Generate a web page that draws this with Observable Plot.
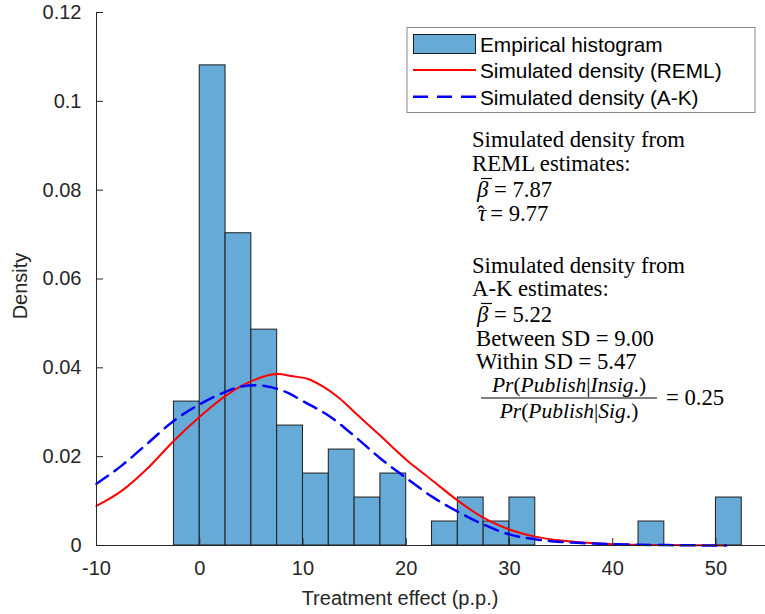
<!DOCTYPE html>
<html><head><meta charset="utf-8">
<script src="https://cdn.jsdelivr.net/npm/d3@7"></script>
<script src="https://cdn.jsdelivr.net/npm/@observablehq/plot@0.6"></script>
<style>body{margin:0;background:#fff} #chart{width:765px;height:614px}</style>
</head><body><div id="chart"></div>
<script>
// Histogram: bin left edges (width 2.5) and densities
const binWidth = 2.5;
const binLeft = [-2.5,0,2.5,5,7.5,10,12.5,15,17.5,20,22.5,25,27.5,30,32.5,35,37.5,40,42.5,45,47.5,50];
const histDensity = [0.0324,0.1081,0.0703,0.0486,0.0270,0.0162,0.0216,0.0108,0.0162,0,0.0054,0.0108,0.0054,0.0108,0,0,0,0,0.0054,0,0,0.0108];

// Simulated density (REML)
const remlX = [-10,-7.5,-5,-2.5,0,2.5,5,7.5,9,10.5,12,13.5,15,17.5,20,22.5,25,27.5,30,32.5,35,37.5,40,45,51];
const remlY = [0.0089,0.0124,0.0175,0.0236,0.0290,0.0337,0.0370,0.0386,0.0381,0.0375,0.0357,0.0332,0.0300,0.0247,0.0193,0.0147,0.0101,0.0062,0.0036,0.0020,0.0011,0.0006,0.0003,0.0001,0.0000];

// Simulated density (A-K)
const akX = [-10,-7.5,-5,-2.5,0,2.5,4,5.5,7,8.5,10,12.5,15,17.5,20,22.5,25,27.5,30,32.5,35,37.5,40,45,51];
const akY = [0.0139,0.0181,0.0231,0.0281,0.0318,0.0346,0.0358,0.0361,0.0356,0.0344,0.0325,0.0292,0.0246,0.0196,0.0152,0.0110,0.0076,0.0047,0.0025,0.0014,0.0008,0.0005,0.0003,0.0001,0.0000];

const xTicks = [-10,0,10,20,30,40,50];
const yTicks = [0,0.02,0.04,0.06,0.08,0.1,0.12];

const legendLabels = ["Empirical histogram","Simulated density (REML)","Simulated density (A-K)"];

const bins = binLeft.map((x, i) => ({x1: x, x2: x + binWidth, y: histDensity[i]})).filter(d => d.y > 0);
const reml = remlX.map((x, i) => ({x, y: remlY[i]}));
const ak = akX.map((x, i) => ({x, y: akY[i]}));

const axisColor = "#262626";
const barFill = "#66aad7";

const chart = Plot.plot({
  width: 765, height: 614,
  marginLeft: 96, marginRight: 0, marginTop: 12, marginBottom: 69,
  style: {fontFamily: "'Liberation Sans', Arial, sans-serif", fontSize: "20px", color: axisColor, background: "#fff"},
  x: {domain: [-10, 54.8]},
  y: {domain: [0, 0.12]},
  marks: [
    Plot.rectY(bins, {x1: "x1", x2: "x2", y: "y", fill: barFill, stroke: "#1e1e1e", strokeWidth: 1, inset: 0}),
    Plot.line(reml, {x: "x", y: "y", stroke: "#ff0000", strokeWidth: 2, curve: "monotone-x"}),
    Plot.line(ak, {x: "x", y: "y", stroke: "#0000ff", strokeWidth: 2.5, strokeDasharray: "14,8", curve: "monotone-x"}),
    Plot.ruleY([0], {stroke: axisColor, strokeWidth: 1}),
    Plot.ruleX([-10], {stroke: axisColor, strokeWidth: 1}),
    Plot.axisX({ticks: xTicks, tickSize: -7, tickPadding: 22, label: null, tickFormat: d => String(d), stroke: axisColor}),
    Plot.axisY({ticks: yTicks, tickSize: -7, tickPadding: 22, label: null, tickFormat: d => String(d), stroke: axisColor})
  ]
});
document.getElementById("chart").appendChild(chart);

const svg = d3.select(chart);
// Axis titles
svg.append("text").attr("x", 400).attr("y", 605).attr("text-anchor", "middle")
  .attr("fill", axisColor).style("font-size", "20px").text("Treatment effect (p.p.)");
svg.append("text").attr("transform", "translate(27,286) rotate(-90)").attr("text-anchor", "middle")
  .attr("fill", axisColor).style("font-size", "20px").text("Density");

// Legend
const lg = svg.append("g").attr("text-anchor", "start");
lg.append("rect").attr("x", 407).attr("y", 27.5).attr("width", 348).attr("height", 85)
  .attr("fill", "#fff").attr("stroke", "#8a8a8a").attr("stroke-width", 1);
lg.append("rect").attr("x", 413.5).attr("y", 34.5).attr("width", 62).attr("height", 19)
  .attr("fill", barFill).attr("stroke", "#1e1e1e");
lg.append("line").attr("x1", 413).attr("x2", 476).attr("y1", 70).attr("y2", 70)
  .attr("stroke", "#ff0000").attr("stroke-width", 2);
lg.append("line").attr("x1", 413).attr("x2", 476).attr("y1", 96.7).attr("y2", 96.7)
  .attr("stroke", "#0000ff").attr("stroke-width", 2.5).attr("stroke-dasharray", "15,9");
[51.5, 78, 104.5].forEach((y, i) => {
  lg.append("text").attr("x", 480).attr("y", y).attr("fill", "#000")
    .style("font-size", "20.8px").text(legendLabels[i]);
});

// Annotation (LaTeX-like)
const ann = svg.append("g").attr("text-anchor", "start")
  .style("font-family", "'Liberation Serif', 'Times New Roman', serif")
  .style("font-size", "22.7px").attr("fill", "#000");
function line(x, y, str) { return ann.append("text").attr("x", x).attr("y", y).text(str); }
function mathLine(x, y, sym, rest) {
  const t = ann.append("text").attr("x", x).attr("y", y);
  t.append("tspan").style("font-style", "italic").text(sym);
  t.append("tspan").text(rest);
  return t;
}
line(472, 147, "Simulated density from");
line(472, 171, "REML estimates:");
mathLine(477, 197, "β", " = 7.87");
ann.append("line").attr("x1", 481).attr("x2", 492).attr("y1", 178.5).attr("y2", 178.5).attr("stroke", "#000").attr("stroke-width", 1.2);
{
  const t = ann.append("text").attr("x", 477).attr("y", 221);
  t.append("tspan").style("font-style", "italic").text("τ");
  t.append("tspan").attr("dx", -9).attr("dy", 1).text("ˆ");
  t.append("tspan").attr("dx", 0).attr("dy", -1).text(" = 9.77");
}
line(472, 273, "Simulated density from");
line(472, 296, "A-K estimates:");
mathLine(477, 322, "β", " = 5.22");
ann.append("line").attr("x1", 481).attr("x2", 492).attr("y1", 303.5).attr("y2", 303.5).attr("stroke", "#000").attr("stroke-width", 1.2);
line(476, 346, "Between SD = 9.00");
line(476, 369, "Within SD = 5.47");
function fracPart(y, parts) {
  const t = ann.append("text").attr("x", 569).attr("y", y).attr("text-anchor", "middle").style("font-size", "21.5px");
  parts.forEach(([s, it]) => t.append("tspan").style("font-style", it ? "italic" : "normal").text(s));
}
fracPart(392, [["Pr", 1], ["(", 0], ["Publish", 1], ["|", 0], ["Insig", 1], [".)", 0]]);
ann.append("line").attr("x1", 481).attr("x2", 657).attr("y1", 398).attr("y2", 398).attr("stroke", "#000").attr("stroke-width", 1.2);
fracPart(418, [["Pr", 1], ["(", 0], ["Publish", 1], ["|", 0], ["Sig", 1], [".)", 0]]);
line(666, 405, "= 0.25");
</script>
</body></html>
